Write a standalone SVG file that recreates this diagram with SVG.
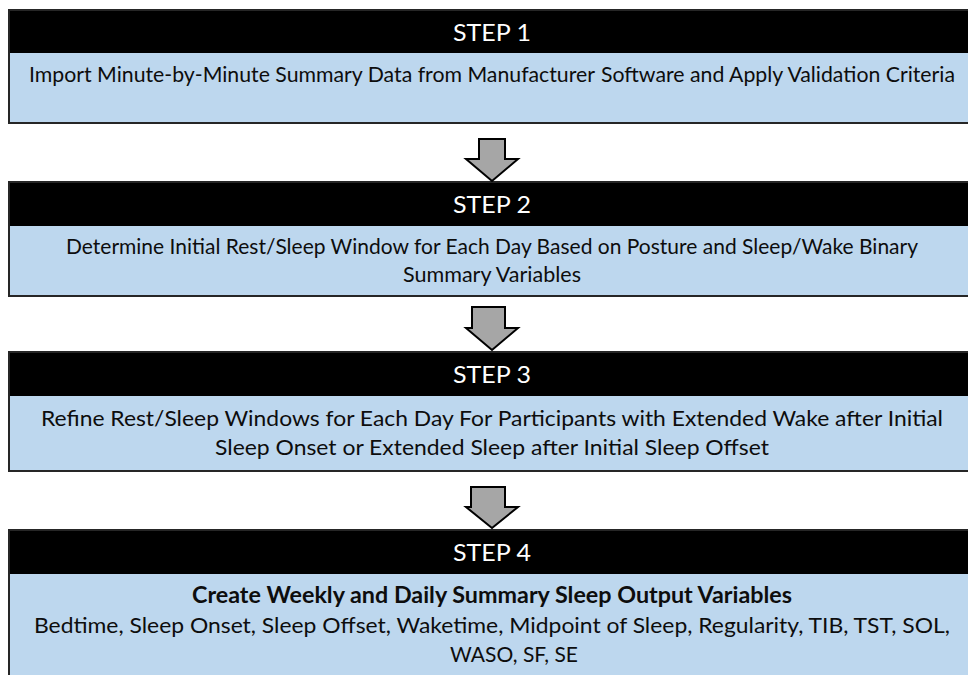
<svg xmlns="http://www.w3.org/2000/svg" width="968" height="675" viewBox="0 0 968 675">
  <style>
    .hdr { fill: #000000; }
    .body { fill: #BDD7EE; }
    .frame { fill: none; stroke: #262626; stroke-width: 2; }
    .title { font-family: Lato, "Open Sans", "Liberation Sans", sans-serif; font-size: 23.5px; fill: #ffffff; text-anchor: middle; }
    .txt { font-family: Lato, "Open Sans", "Liberation Sans", sans-serif; font-size: 22px; fill: #0d0d0d; text-anchor: middle; }
    .start { text-anchor: start; }
    .bold { font-weight: bold; }
    .arrow { fill: #A6A6A6; stroke: #000000; stroke-width: 2; stroke-linejoin: miter; }
  </style>
  <rect width="968" height="675" fill="#ffffff"/>

  <!-- Step 1 -->
  <g id="step1">
    <rect class="hdr" x="9" y="10" width="970" height="43"/>
    <rect class="body" x="9" y="53" width="970" height="70"/>
    <rect class="frame" x="9" y="10" width="970" height="113"/>
    <text class="title" x="492" y="41" textLength="78" lengthAdjust="spacingAndGlyphs">STEP 1</text>
    <text class="txt start" x="29" y="82" textLength="566" lengthAdjust="spacingAndGlyphs">Import Minute-by-Minute Summary Data from Manufacturer</text>
    <text class="txt start" x="601" y="82" textLength="354" lengthAdjust="spacingAndGlyphs">Software and Apply Validation Criteria</text>
  </g>

  <!-- Step 2 -->
  <g id="step2">
    <rect class="hdr" x="9" y="182" width="970" height="44"/>
    <rect class="body" x="9" y="226" width="970" height="70"/>
    <rect class="frame" x="9" y="182" width="970" height="114"/>
    <text class="title" x="492" y="213" textLength="78" lengthAdjust="spacingAndGlyphs">STEP 2</text>
    <text class="txt" x="492" y="254" textLength="852" lengthAdjust="spacingAndGlyphs">Determine Initial Rest/Sleep Window for Each Day Based on Posture and Sleep/Wake Binary</text>
    <text class="txt" x="492" y="282" textLength="178" lengthAdjust="spacingAndGlyphs">Summary Variables</text>
  </g>

  <!-- Step 3 -->
  <g id="step3">
    <rect class="hdr" x="9" y="352" width="970" height="44"/>
    <rect class="body" x="9" y="396" width="970" height="75"/>
    <rect class="frame" x="9" y="352" width="970" height="119"/>
    <text class="title" x="492" y="383" textLength="78" lengthAdjust="spacingAndGlyphs">STEP 3</text>
    <text class="txt" x="492" y="426" textLength="902" lengthAdjust="spacingAndGlyphs">Refine Rest/Sleep Windows for Each Day For Participants with Extended Wake after Initial</text>
    <text class="txt" x="492" y="455" textLength="554" lengthAdjust="spacingAndGlyphs">Sleep Onset or Extended Sleep after Initial Sleep Offset</text>
  </g>

  <!-- Step 4 -->
  <g id="step4">
    <rect class="hdr" x="9" y="530" width="970" height="44"/>
    <rect class="body" x="9" y="574" width="970" height="110"/>
    <rect class="frame" x="9" y="530" width="970" height="160"/>
    <text class="title" x="492" y="561" textLength="78" lengthAdjust="spacingAndGlyphs">STEP 4</text>
    <text class="txt bold" x="492" y="603" textLength="600" lengthAdjust="spacingAndGlyphs">Create Weekly and Daily Summary Sleep Output Variables</text>
    <text class="txt" x="492" y="633" textLength="916" lengthAdjust="spacingAndGlyphs">Bedtime, Sleep Onset, Sleep Offset, Waketime, Midpoint of Sleep, Regularity, TIB, TST, SOL,</text>
    <text class="txt" x="514" y="662" textLength="128" lengthAdjust="spacingAndGlyphs">WASO, SF, SE</text>
  </g>

  <!-- Connectors: block arrows between steps -->
  <g id="connectors">
    <path class="arrow" d="M479,139 H505 V159 H518 L492,181 L466,159 H479 Z"/>
    <path class="arrow" d="M472,307 H505 V328 H518 L492,350 L466,328 H472 Z"/>
    <path class="arrow" d="M471,487 H505 V507 H518 L492,528 L466,507 H471 Z"/>
  </g>
</svg>
